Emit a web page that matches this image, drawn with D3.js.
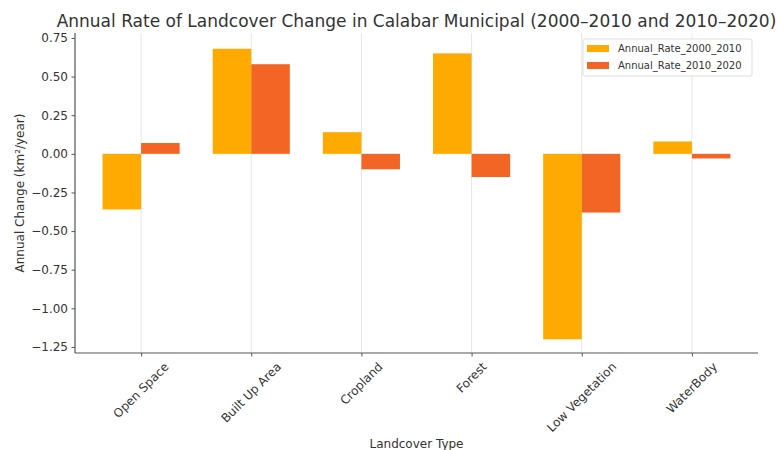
<!DOCTYPE html>
<html>
<head>
<meta charset="utf-8">
<script src="https://cdn.jsdelivr.net/npm/d3@7"></script>
<style>
  html, body { margin: 0; padding: 0; background: #fff; }
  svg { display: block; font-family: "DejaVu Sans", sans-serif; }
</style>
</head>
<body>
<svg id="chart" width="778" height="450"></svg>
<script>
const categories = ["Open Space", "Built Up Area", "Cropland", "Forest", "Low Vegetation", "WaterBody"];
const rate2000_2010 = [-0.36, 0.68, 0.14, 0.65, -1.20, 0.08];
const rate2010_2020 = [0.07, 0.58, -0.10, -0.15, -0.38, -0.03];
const seriesNames = ["Annual_Rate_2000_2010", "Annual_Rate_2010_2020"];
const seriesColors = ["#FFAA00", "#F26524"];
const yTicks = [0.75, 0.50, 0.25, 0.00, -0.25, -0.50, -0.75, -1.00, -1.25];
const titleText = "Annual Rate of Landcover Change in Calabar Municipal (2000–2010 and 2010–2020)";
const xLabel = "Landcover Type";
const yLabel = "Annual Change (km²/year)";

const svg = d3.select("#chart");
const L = 75, R = 758, T = 33, B = 353;
const textColor = "#333";
const barW = 0.35;

const x = d3.scaleLinear().domain([-0.6, categories.length - 1 + 0.6]).range([L, R]);
const y = d3.scaleLinear().domain([-1.289, 0.782]).range([B, T]);

// vertical grid
svg.append("g").selectAll("line").data(categories).join("line")
  .attr("x1", (d, i) => x(i)).attr("x2", (d, i) => x(i))
  .attr("y1", T).attr("y2", B)
  .attr("stroke", "#e6e6e6").attr("stroke-width", 1);

// bars
const series = [rate2000_2010, rate2010_2020];
series.forEach((vals, s) => {
  svg.append("g").selectAll("rect").data(vals).join("rect")
    .attr("x", (d, i) => x(i - barW + s * barW))
    .attr("width", x(barW) - x(0))
    .attr("y", d => y(Math.max(0, d)))
    .attr("height", d => Math.abs(y(d) - y(0)))
    .attr("fill", seriesColors[s]);
});

// y axis
const yAxis = d3.axisLeft(y).tickValues(yTicks).tickSize(3.5).tickPadding(3.5)
  .tickFormat(d => d3.format(".2f")(d).replace("-", "−"));
const gy = svg.append("g").attr("transform", `translate(${L},0)`).call(yAxis);
gy.select(".domain").remove();
gy.append("line").attr("x1", 0).attr("x2", 0).attr("y1", T).attr("y2", B)
  .attr("stroke", "#555").attr("stroke-width", 1.2);
gy.selectAll(".tick line").attr("stroke", "#555");
gy.selectAll(".tick text").attr("fill", textColor).style("font-size", "12px")
  .style("font-family", "DejaVu Sans");

// x axis
const xAxis = d3.axisBottom(x).tickValues(d3.range(categories.length)).tickSize(3.5).tickFormat("");
const gx = svg.append("g").attr("transform", `translate(0,${B})`).call(xAxis);
gx.select(".domain").remove();
gx.append("line").attr("x1", L).attr("x2", R).attr("y1", 0).attr("y2", 0)
  .attr("stroke", "#555").attr("stroke-width", 1.2);
gx.selectAll(".tick line").attr("stroke", "#555");

// rotated x tick labels (bbox centered on tick, top at axis + pad)
const lblG = svg.append("g");
categories.forEach((c, i) => {
  const t = lblG.append("text")
    .attr("text-anchor", "middle")
    .attr("dominant-baseline", "central")
    .attr("fill", textColor)
    .style("font-size", "12px")
    .text(c);
  const len = t.node().getComputedTextLength();
  const h = 12 * 1.1;
  const bh = (len + h) / Math.SQRT2;
  const cx = x(i), cy = B + 7 + bh / 2;
  t.attr("x", cx).attr("y", cy).attr("transform", `rotate(-45,${cx},${cy})`);
});

// title
svg.append("text").attr("x", (L + R) / 2).attr("y", 27)
  .attr("text-anchor", "middle").attr("fill", textColor)
  .style("font-size", "17px").text(titleText);

// axis labels
svg.append("text").attr("x", (L + R) / 2).attr("y", 448)
  .attr("text-anchor", "middle").attr("fill", textColor)
  .style("font-size", "12px").text(xLabel);
svg.append("text").attr("transform", `translate(24,${(T + B) / 2}) rotate(-90)`)
  .attr("text-anchor", "middle").attr("fill", textColor)
  .style("font-size", "12px").text(yLabel);

// legend
const lg = svg.append("g").attr("transform", "translate(583,39)");
lg.append("rect").attr("x", 0).attr("y", 0).attr("width", 169).attr("height", 37)
  .attr("rx", 2).attr("fill", "#fff").attr("fill-opacity", 0.8)
  .attr("stroke", "#ddd").attr("stroke-width", 1);
seriesNames.forEach((n, s) => {
  const yy = 9.5 + s * 17;
  lg.append("rect").attr("x", 4).attr("y", yy - 3.5).attr("width", 22).attr("height", 7)
    .attr("fill", seriesColors[s]);
  lg.append("text").attr("x", 35).attr("y", yy).attr("dominant-baseline", "central")
    .attr("fill", textColor).style("font-size", "10px").text(n);
});
</script>
</body>
</html>
